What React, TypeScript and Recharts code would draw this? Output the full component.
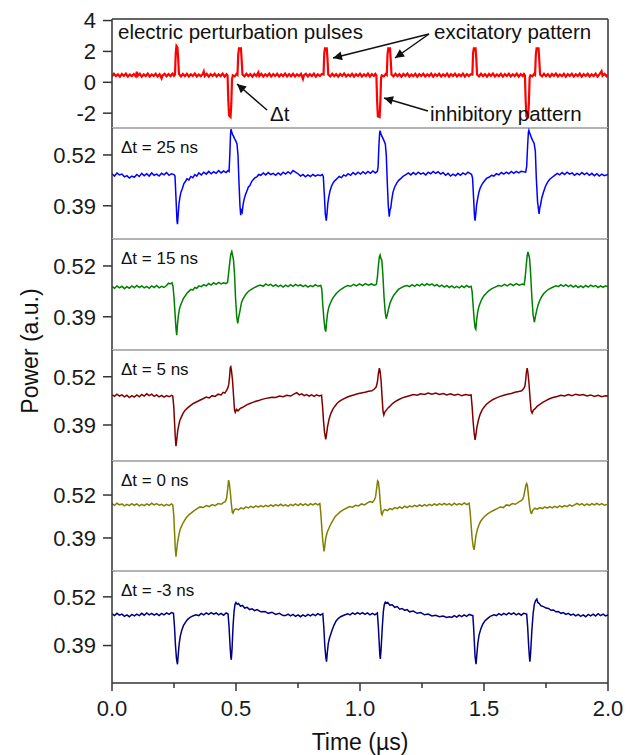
import React from "react";
import { LineChart, Line, XAxis, YAxis, ReferenceLine } from "recharts";

const FONT = "'Liberation Sans', Arial, Helvetica, sans-serif";

// axis ticks
const timeTicks = [0, 0.25, 0.5, 0.75, 1, 1.25, 1.5, 1.75, 2];
const majorTimeTicks = [0, 0.5, 1, 1.5, 2];
const pulseTicks = [4, 2, 0, -2];
const powerTicks = [0.39, 0.52];
const delayLabels = ["Δt = 25 ns", "Δt = 15 ns", "Δt = 5 ns", "Δt = 0 ns", "Δt = -3 ns"];

// [time (µs), value]
const pulseTrace: [number, number][] = [
  [0,0.38],[0.008,0.55],[0.016,0.4],[0.024,0.52],[0.032,0.36],[0.04,0.54],[0.048,0.41],[0.056,0.56],[0.064,0.37],[0.072,0.5],[0.08,0.4],[0.088,0.53],[0.096,0.38],[0.1,0.68],[0.104,0.42],[0.112,0.55],[0.12,0.36],[0.128,0.52],[0.136,0.4],[0.144,0.56],[0.152,0.38],[0.16,0.51],[0.168,0.41],[0.176,0.55],[0.184,0.37],[0.192,0.52],[0.2,0.26],[0.204,0.45],[0.212,0.55],[0.22,0.39],[0.228,0.53],[0.236,0.4],[0.244,0.56],[0.25,0.42],
  [0.254,0.5],[0.257,1.9],[0.26,2.35],[0.264,2.25],[0.267,1.5],[0.27,0.55],
  [0.278,0.38],[0.286,0.54],[0.294,0.4],[0.302,0.55],[0.31,0.37],[0.318,0.52],[0.326,0.41],[0.334,0.56],[0.342,0.38],[0.35,0.51],[0.358,0.4],[0.366,0.54],[0.37,0.7],[0.374,0.4],[0.382,0.55],[0.39,0.37],[0.398,0.53],[0.406,0.41],[0.414,0.55],[0.422,0.38],[0.43,0.52],[0.438,0.4],[0.446,0.56],[0.454,0.37],[0.462,0.52],
  [0.466,0.45],[0.469,-1.2],[0.472,-2.15],[0.478,-2.25],[0.481,-1.4],[0.484,0.2],[0.487,0.45],[0.495,0.38],[0.502,0.54],
  [0.506,0.48],[0.509,1.8],[0.512,2.2],[0.52,2.2],[0.523,1.4],[0.526,0.5],
  [0.534,0.38],[0.542,0.55],[0.55,0.4],[0.558,0.53],[0.566,0.37],[0.574,0.54],[0.582,0.41],[0.59,0.64],[0.594,0.4],[0.602,0.55],[0.61,0.37],[0.618,0.52],[0.626,0.4],[0.634,0.56],[0.642,0.38],[0.65,0.53],[0.658,0.41],[0.666,0.55],[0.674,0.37],[0.682,0.52],[0.69,0.4],[0.698,0.56],[0.706,0.38],[0.714,0.53],[0.722,0.39],[0.73,0.55],[0.738,0.37],[0.746,0.52],[0.754,0.41],[0.762,0.55],[0.77,0.22],[0.774,0.46],[0.782,0.55],[0.79,0.38],[0.798,0.53],[0.806,0.4],[0.814,0.56],[0.822,0.37],[0.83,0.52],[0.838,0.41],[0.846,0.54],
  [0.853,0.5],[0.856,1.9],[0.859,2.2],[0.866,2.2],[0.869,1.5],[0.872,0.5],
  [0.88,0.38],[0.888,0.55],[0.896,0.4],[0.904,0.53],[0.912,0.37],[0.92,0.54],[0.928,0.41],[0.936,0.56],[0.944,0.38],[0.952,0.51],[0.96,0.4],[0.968,0.55],[0.976,0.37],[0.984,0.53],[0.992,0.41],[1,0.55],[1.008,0.38],[1.016,0.52],[1.024,0.4],[1.032,0.56],[1.04,0.37],[1.048,0.53],[1.056,0.41],[1.062,0.54],
  [1.066,0.45],[1.069,-1.2],[1.072,-2.2],[1.079,-2.25],[1.082,-1.3],[1.085,0.3],[1.088,0.45],[1.096,0.38],[1.104,0.54],
  [1.108,0.48],[1.111,1.8],[1.114,2.2],[1.121,2.2],[1.124,1.4],[1.127,0.5],
  [1.135,0.38],[1.143,0.55],[1.151,0.4],[1.159,0.53],[1.167,0.37],[1.175,0.54],[1.183,0.41],[1.191,0.56],[1.199,0.38],[1.207,0.51],[1.215,0.4],[1.223,0.55],[1.231,0.37],[1.239,0.53],[1.247,0.41],[1.255,0.55],[1.263,0.38],[1.271,0.52],[1.279,0.4],[1.287,0.56],[1.295,0.37],[1.303,0.53],[1.311,0.41],[1.319,0.55],[1.327,0.38],[1.335,0.52],[1.343,0.4],[1.351,0.56],[1.359,0.37],[1.367,0.53],[1.375,0.41],[1.383,0.55],[1.391,0.38],[1.399,0.52],[1.407,0.4],[1.415,0.56],[1.423,0.37],[1.431,0.53],[1.439,0.41],[1.447,0.52],
  [1.453,0.5],[1.456,1.9],[1.459,2.2],[1.466,2.2],[1.469,1.5],[1.472,0.5],
  [1.48,0.38],[1.488,0.55],[1.496,0.4],[1.504,0.53],[1.512,0.37],[1.52,0.54],[1.528,0.41],[1.536,0.56],[1.544,0.38],[1.552,0.51],[1.56,0.4],[1.568,0.55],[1.576,0.37],[1.584,0.53],[1.592,0.41],[1.6,0.55],[1.608,0.38],[1.616,0.52],[1.624,0.4],[1.632,0.56],[1.64,0.37],[1.648,0.53],[1.656,0.41],[1.661,0.54],
  [1.665,0.45],[1.668,-1.2],[1.671,-2.2],[1.678,-2.25],[1.681,-1.3],[1.684,0.3],[1.687,0.45],[1.695,0.38],[1.702,0.54],
  [1.706,0.48],[1.709,1.8],[1.712,2.2],[1.72,2.2],[1.723,1.4],[1.726,0.5],
  [1.734,0.38],[1.742,0.55],[1.75,0.4],[1.758,0.53],[1.766,0.37],[1.774,0.54],[1.782,0.41],[1.79,0.56],[1.798,0.38],[1.806,0.51],[1.814,0.4],[1.822,0.55],[1.83,0.37],[1.838,0.53],[1.846,0.41],[1.854,0.55],[1.862,0.38],[1.87,0.52],[1.878,0.4],[1.886,0.56],[1.894,0.37],[1.902,0.53],[1.91,0.41],[1.918,0.55],[1.926,0.38],[1.934,0.52],[1.942,0.4],[1.95,0.56],[1.958,0.37],[1.966,0.53],[1.974,0.72],[1.978,0.42],[1.986,0.55],[1.994,0.39],[2,0.5],
];

const trace25: [number, number][] = [
  [0,0.472],[0.01,0.466],[0.02,0.474],[0.03,0.469],[0.04,0.471],[0.05,0.464],[0.06,0.467],[0.07,0.461],[0.08,0.466],[0.09,0.463],[0.1,0.47],[0.11,0.465],[0.12,0.473],[0.13,0.467],[0.14,0.472],[0.15,0.466],[0.16,0.474],[0.17,0.468],[0.18,0.471],[0.19,0.466],[0.2,0.473],[0.21,0.469],[0.22,0.475],[0.23,0.468],[0.24,0.472],[0.25,0.47],
  [0.254,0.466],[0.258,0.41],[0.262,0.352],[0.264,0.343],[0.267,0.368],[0.27,0.395],[0.274,0.412],[0.278,0.425],[0.283,0.433],[0.29,0.447],[0.296,0.452],[0.302,0.459],[0.31,0.456],[0.318,0.465],[0.326,0.462],[0.334,0.47],[0.342,0.466],[0.35,0.474],[0.36,0.469],[0.37,0.476],[0.38,0.471],[0.39,0.478],[0.4,0.472],[0.41,0.477],[0.42,0.473],[0.43,0.48],[0.44,0.474],[0.45,0.479],[0.46,0.475],[0.468,0.48],
  [0.472,0.478],[0.475,0.52],[0.478,0.575],[0.48,0.586],[0.483,0.578],[0.486,0.572],[0.49,0.568],[0.494,0.562],[0.499,0.556],[0.504,0.548],[0.508,0.52],[0.512,0.45],[0.516,0.39],[0.519,0.366],[0.522,0.378],[0.525,0.374],[0.529,0.395],[0.533,0.407],[0.538,0.418],[0.544,0.428],[0.55,0.438],[0.556,0.442],[0.563,0.452],[0.57,0.457],[0.577,0.462],[0.584,0.464],[0.592,0.47],[0.6,0.468],[0.61,0.474],[0.62,0.469],[0.63,0.475],[0.64,0.47],[0.65,0.473],[0.66,0.468],[0.67,0.474],[0.68,0.469],[0.69,0.476],[0.7,0.471],[0.71,0.477],[0.72,0.472],[0.73,0.48],[0.74,0.476],[0.75,0.472],[0.76,0.466],[0.77,0.47],[0.78,0.464],[0.79,0.469],[0.8,0.465],[0.81,0.47],[0.82,0.466],[0.83,0.469],[0.84,0.467],[0.848,0.47],
  [0.852,0.465],[0.856,0.42],[0.86,0.37],[0.864,0.352],[0.867,0.37],[0.87,0.395],[0.874,0.412],[0.879,0.428],[0.885,0.44],[0.892,0.449],[0.9,0.455],[0.908,0.46],[0.916,0.465],[0.925,0.462],[0.934,0.469],[0.943,0.466],[0.952,0.472],[0.962,0.468],[0.972,0.475],[0.982,0.47],[0.992,0.476],[1.002,0.471],[1.012,0.477],[1.022,0.472],[1.032,0.478],[1.042,0.473],[1.052,0.479],[1.062,0.474],[1.07,0.478],
  [1.073,0.49],[1.076,0.54],[1.079,0.575],[1.081,0.582],[1.084,0.575],[1.088,0.568],[1.092,0.563],[1.097,0.556],[1.102,0.548],[1.106,0.52],[1.11,0.45],[1.114,0.39],[1.118,0.362],[1.121,0.38],[1.124,0.384],[1.128,0.405],[1.133,0.425],[1.14,0.438],[1.148,0.448],[1.156,0.455],[1.165,0.46],[1.175,0.466],[1.185,0.47],[1.195,0.474],[1.205,0.469],[1.215,0.475],[1.225,0.47],[1.235,0.476],[1.245,0.471],[1.255,0.474],[1.265,0.469],[1.275,0.476],[1.285,0.472],[1.295,0.478],[1.305,0.473],[1.315,0.477],[1.325,0.471],[1.335,0.475],[1.345,0.468],[1.355,0.473],[1.365,0.466],[1.375,0.471],[1.385,0.467],[1.395,0.473],[1.405,0.468],[1.415,0.474],[1.425,0.47],[1.435,0.476],[1.445,0.472],[1.45,0.47],
  [1.454,0.46],[1.458,0.41],[1.462,0.36],[1.464,0.352],[1.467,0.37],[1.47,0.392],[1.475,0.41],[1.48,0.426],[1.485,0.436],[1.492,0.445],[1.5,0.452],[1.51,0.46],[1.52,0.463],[1.53,0.468],[1.54,0.466],[1.55,0.472],[1.56,0.469],[1.57,0.475],[1.58,0.471],[1.59,0.476],[1.6,0.472],[1.61,0.478],[1.62,0.473],[1.63,0.478],[1.64,0.474],[1.65,0.478],[1.668,0.476],
  [1.672,0.49],[1.676,0.545],[1.679,0.578],[1.681,0.583],[1.684,0.576],[1.688,0.57],[1.692,0.563],[1.697,0.556],[1.702,0.55],[1.707,0.53],[1.711,0.46],[1.716,0.4],[1.722,0.369],[1.725,0.385],[1.728,0.392],[1.733,0.41],[1.74,0.425],[1.748,0.44],[1.756,0.45],[1.765,0.458],[1.775,0.463],[1.785,0.468],[1.795,0.473],[1.805,0.469],[1.815,0.475],[1.825,0.47],[1.835,0.476],[1.845,0.471],[1.855,0.474],[1.865,0.468],[1.875,0.473],[1.885,0.469],[1.895,0.475],[1.905,0.47],[1.915,0.474],[1.925,0.468],[1.935,0.473],[1.945,0.467],[1.955,0.472],[1.965,0.466],[1.975,0.471],[1.985,0.467],[2,0.47],
];

const trace15: [number, number][] = [
  [0,0.468],[0.01,0.463],[0.02,0.469],[0.03,0.464],[0.04,0.468],[0.05,0.462],[0.06,0.467],[0.07,0.463],[0.08,0.469],[0.09,0.464],[0.1,0.47],[0.11,0.465],[0.12,0.469],[0.13,0.464],[0.14,0.468],[0.15,0.463],[0.16,0.469],[0.17,0.465],[0.18,0.47],[0.19,0.464],[0.2,0.468],[0.21,0.465],[0.22,0.47],[0.228,0.476],[0.236,0.474],[0.242,0.477],[0.246,0.468],
  [0.25,0.44],[0.254,0.4],[0.258,0.36],[0.261,0.343],[0.264,0.37],[0.268,0.395],[0.272,0.41],[0.277,0.42],[0.282,0.428],[0.288,0.437],[0.295,0.443],[0.302,0.45],[0.31,0.455],[0.318,0.46],[0.326,0.458],[0.334,0.465],[0.342,0.463],[0.35,0.469],[0.36,0.467],[0.37,0.472],[0.38,0.469],[0.39,0.475],[0.4,0.471],[0.41,0.477],[0.42,0.473],[0.43,0.478],[0.44,0.474],[0.45,0.477],[0.46,0.475],
  [0.466,0.478],[0.47,0.5],[0.475,0.53],[0.479,0.55],[0.483,0.557],[0.486,0.548],[0.49,0.535],[0.494,0.5],[0.498,0.44],[0.503,0.39],[0.507,0.373],[0.511,0.39],[0.516,0.405],[0.522,0.426],[0.528,0.435],[0.535,0.443],[0.543,0.45],[0.552,0.456],[0.562,0.46],[0.572,0.464],[0.585,0.468],[0.597,0.471],[0.61,0.468],[0.62,0.474],[0.63,0.47],[0.64,0.473],[0.65,0.468],[0.66,0.472],[0.67,0.467],[0.68,0.471],[0.69,0.466],[0.7,0.471],[0.71,0.467],[0.72,0.472],[0.73,0.468],[0.74,0.473],[0.75,0.469],[0.76,0.472],[0.77,0.467],[0.78,0.471],[0.79,0.466],[0.8,0.47],[0.81,0.467],[0.82,0.472],[0.83,0.468],[0.842,0.47],
  [0.846,0.46],[0.85,0.42],[0.855,0.38],[0.859,0.358],[0.862,0.352],[0.865,0.375],[0.869,0.398],[0.874,0.414],[0.88,0.424],[0.887,0.434],[0.895,0.442],[0.905,0.45],[0.915,0.456],[0.925,0.461],[0.937,0.466],[0.95,0.47],[0.962,0.468],[0.974,0.473],[0.986,0.469],[0.998,0.474],[1.01,0.47],[1.022,0.475],[1.034,0.471],[1.046,0.474],[1.058,0.47],[1.066,0.473],
  [1.07,0.49],[1.074,0.52],[1.078,0.543],[1.081,0.548],[1.084,0.54],[1.088,0.535],[1.092,0.5],[1.097,0.44],[1.102,0.4],[1.106,0.385],[1.11,0.395],[1.115,0.41],[1.121,0.425],[1.128,0.435],[1.136,0.445],[1.145,0.452],[1.155,0.46],[1.165,0.464],[1.178,0.468],[1.19,0.47],[1.2,0.467],[1.21,0.472],[1.22,0.468],[1.23,0.473],[1.24,0.469],[1.25,0.474],[1.26,0.47],[1.27,0.475],[1.28,0.471],[1.29,0.474],[1.3,0.469],[1.31,0.472],[1.32,0.467],[1.33,0.471],[1.34,0.466],[1.35,0.47],[1.36,0.465],[1.37,0.469],[1.38,0.464],[1.39,0.468],[1.4,0.464],[1.41,0.469],[1.42,0.465],[1.43,0.47],[1.44,0.466],[1.448,0.468],
  [1.452,0.455],[1.456,0.42],[1.46,0.385],[1.464,0.362],[1.467,0.358],[1.47,0.38],[1.474,0.4],[1.479,0.415],[1.485,0.426],[1.492,0.436],[1.5,0.444],[1.51,0.451],[1.52,0.457],[1.532,0.462],[1.545,0.466],[1.558,0.47],[1.57,0.468],[1.582,0.473],[1.594,0.469],[1.606,0.474],[1.618,0.47],[1.63,0.475],[1.642,0.471],[1.654,0.474],[1.662,0.472],
  [1.666,0.49],[1.67,0.52],[1.674,0.545],[1.677,0.556],[1.68,0.55],[1.684,0.538],[1.688,0.5],[1.693,0.44],[1.698,0.395],[1.703,0.376],[1.707,0.39],[1.712,0.405],[1.718,0.42],[1.725,0.432],[1.733,0.442],[1.742,0.45],[1.752,0.456],[1.762,0.461],[1.775,0.465],[1.79,0.469],[1.8,0.467],[1.81,0.472],[1.82,0.468],[1.83,0.472],[1.84,0.467],[1.85,0.471],[1.86,0.466],[1.87,0.47],[1.88,0.465],[1.89,0.469],[1.9,0.465],[1.91,0.47],[1.92,0.466],[1.93,0.471],[1.94,0.467],[1.95,0.47],[1.96,0.465],[1.97,0.469],[1.98,0.465],[1.99,0.469],[2,0.467],
];

const trace5: [number, number][] = [
  [0,0.472],[0.01,0.467],[0.02,0.473],[0.03,0.468],[0.04,0.471],[0.05,0.466],[0.06,0.47],[0.07,0.464],[0.08,0.469],[0.09,0.465],[0.1,0.471],[0.11,0.466],[0.12,0.472],[0.13,0.468],[0.14,0.474],[0.15,0.469],[0.16,0.473],[0.17,0.467],[0.18,0.471],[0.19,0.466],[0.2,0.47],[0.21,0.465],[0.22,0.469],[0.23,0.466],[0.24,0.47],[0.245,0.468],
  [0.249,0.44],[0.252,0.4],[0.255,0.36],[0.258,0.333],[0.261,0.35],[0.265,0.375],[0.27,0.392],[0.274,0.403],[0.28,0.412],[0.287,0.422],[0.295,0.43],[0.305,0.436],[0.316,0.442],[0.328,0.448],[0.34,0.452],[0.352,0.456],[0.365,0.46],[0.38,0.465],[0.392,0.463],[0.404,0.469],[0.416,0.467],[0.428,0.473],[0.44,0.471],[0.448,0.478],[0.455,0.476],[0.462,0.483],[0.467,0.49],
  [0.471,0.5],[0.474,0.52],[0.477,0.545],[0.479,0.547],[0.482,0.535],[0.486,0.51],[0.49,0.47],[0.494,0.43],[0.497,0.424],[0.502,0.432],[0.508,0.428],[0.516,0.434],[0.525,0.437],[0.535,0.441],[0.545,0.445],[0.556,0.448],[0.568,0.451],[0.58,0.454],[0.592,0.456],[0.605,0.459],[0.617,0.461],[0.63,0.463],[0.645,0.465],[0.66,0.464],[0.675,0.468],[0.69,0.466],[0.705,0.47],[0.72,0.468],[0.735,0.474],[0.745,0.477],[0.755,0.471],[0.765,0.474],[0.775,0.469],[0.785,0.472],[0.795,0.468],[0.805,0.471],[0.815,0.467],[0.825,0.471],[0.835,0.468],[0.845,0.47],
  [0.849,0.44],[0.853,0.4],[0.857,0.37],[0.862,0.351],[0.865,0.365],[0.869,0.385],[0.875,0.405],[0.882,0.42],[0.89,0.432],[0.898,0.44],[0.907,0.448],[0.918,0.454],[0.93,0.459],[0.945,0.464],[0.96,0.468],[0.975,0.471],[0.99,0.474],[1.005,0.476],[1.02,0.478],[1.035,0.481],[1.048,0.482],[1.058,0.487],[1.065,0.492],
  [1.07,0.505],[1.074,0.528],[1.078,0.543],[1.081,0.535],[1.085,0.51],[1.089,0.465],[1.093,0.425],[1.096,0.417],[1.1,0.425],[1.106,0.43],[1.113,0.436],[1.12,0.44],[1.13,0.447],[1.14,0.452],[1.155,0.458],[1.17,0.463],[1.185,0.466],[1.2,0.469],[1.215,0.472],[1.23,0.47],[1.245,0.474],[1.26,0.472],[1.275,0.476],[1.29,0.473],[1.305,0.476],[1.32,0.472],[1.335,0.475],[1.35,0.471],[1.365,0.474],[1.38,0.47],[1.395,0.473],[1.41,0.469],[1.425,0.472],[1.44,0.47],[1.448,0.471],
  [1.452,0.44],[1.456,0.4],[1.46,0.37],[1.464,0.35],[1.467,0.362],[1.471,0.382],[1.477,0.402],[1.484,0.418],[1.492,0.43],[1.5,0.438],[1.51,0.446],[1.522,0.452],[1.535,0.458],[1.55,0.463],[1.565,0.467],[1.58,0.47],[1.595,0.473],[1.61,0.475],[1.625,0.478],[1.64,0.48],[1.652,0.482],[1.66,0.488],[1.665,0.495],
  [1.668,0.51],[1.671,0.532],[1.674,0.543],[1.677,0.532],[1.681,0.505],[1.686,0.46],[1.69,0.428],[1.694,0.422],[1.699,0.43],[1.706,0.434],[1.714,0.44],[1.724,0.445],[1.735,0.45],[1.748,0.455],[1.762,0.46],[1.778,0.464],[1.795,0.467],[1.81,0.47],[1.825,0.468],[1.84,0.472],[1.855,0.469],[1.87,0.473],[1.885,0.47],[1.9,0.472],[1.915,0.468],[1.93,0.471],[1.945,0.467],[1.96,0.47],[1.975,0.466],[1.99,0.469],[2,0.468],
];

const trace0: [number, number][] = [
  [0,0.494],[0.01,0.489],[0.02,0.495],[0.03,0.49],[0.04,0.493],[0.05,0.487],[0.06,0.492],[0.07,0.488],[0.08,0.494],[0.09,0.489],[0.1,0.493],[0.11,0.487],[0.12,0.492],[0.13,0.488],[0.14,0.493],[0.15,0.489],[0.16,0.495],[0.17,0.49],[0.18,0.494],[0.19,0.489],[0.2,0.492],[0.21,0.487],[0.22,0.492],[0.23,0.488],[0.24,0.493],[0.245,0.49],
  [0.249,0.46],[0.252,0.41],[0.255,0.36],[0.258,0.333],[0.261,0.355],[0.265,0.38],[0.27,0.4],[0.274,0.414],[0.28,0.425],[0.287,0.436],[0.294,0.445],[0.3,0.452],[0.31,0.46],[0.32,0.466],[0.33,0.472],[0.342,0.478],[0.355,0.484],[0.368,0.482],[0.38,0.488],[0.392,0.485],[0.404,0.491],[0.416,0.488],[0.428,0.494],[0.44,0.492],[0.45,0.498],[0.457,0.5],
  [0.462,0.51],[0.466,0.535],[0.47,0.565],[0.473,0.555],[0.477,0.53],[0.481,0.495],[0.485,0.468],[0.488,0.465],[0.493,0.475],[0.5,0.478],[0.51,0.475],[0.52,0.481],[0.53,0.478],[0.54,0.484],[0.55,0.481],[0.56,0.486],[0.57,0.482],[0.58,0.487],[0.59,0.483],[0.6,0.488],[0.61,0.484],[0.62,0.489],[0.63,0.485],[0.64,0.49],[0.65,0.486],[0.66,0.491],[0.67,0.487],[0.68,0.492],[0.69,0.487],[0.7,0.491],[0.71,0.486],[0.72,0.492],[0.73,0.488],[0.74,0.493],[0.75,0.488],[0.76,0.494],[0.77,0.489],[0.78,0.493],[0.79,0.488],[0.8,0.494],[0.81,0.49],[0.82,0.495],[0.83,0.49],[0.838,0.494],
  [0.842,0.465],[0.846,0.42],[0.85,0.38],[0.855,0.349],[0.858,0.365],[0.862,0.39],[0.868,0.408],[0.875,0.42],[0.883,0.433],[0.892,0.445],[0.9,0.455],[0.91,0.462],[0.92,0.469],[0.932,0.475],[0.945,0.48],[0.958,0.485],[0.97,0.483],[0.982,0.489],[0.994,0.487],[1.006,0.493],[1.018,0.49],[1.03,0.496],[1.04,0.5],[1.05,0.498],[1.058,0.505],
  [1.063,0.515],[1.067,0.54],[1.071,0.563],[1.074,0.56],[1.078,0.535],[1.082,0.495],[1.086,0.465],[1.089,0.46],[1.094,0.472],[1.1,0.476],[1.11,0.473],[1.12,0.479],[1.13,0.476],[1.14,0.482],[1.15,0.479],[1.16,0.484],[1.17,0.48],[1.18,0.486],[1.19,0.482],[1.2,0.487],[1.21,0.484],[1.22,0.489],[1.23,0.485],[1.24,0.49],[1.25,0.486],[1.26,0.491],[1.27,0.487],[1.28,0.492],[1.29,0.488],[1.3,0.493],[1.31,0.489],[1.32,0.494],[1.33,0.49],[1.34,0.495],[1.35,0.49],[1.36,0.494],[1.37,0.489],[1.38,0.495],[1.39,0.49],[1.4,0.494],[1.41,0.49],[1.42,0.496],[1.43,0.491],[1.44,0.495],
  [1.444,0.47],[1.448,0.43],[1.452,0.39],[1.456,0.365],[1.46,0.354],[1.463,0.37],[1.467,0.395],[1.473,0.415],[1.479,0.428],[1.486,0.44],[1.495,0.449],[1.505,0.457],[1.515,0.463],[1.527,0.469],[1.54,0.474],[1.553,0.479],[1.566,0.484],[1.578,0.482],[1.59,0.49],[1.602,0.488],[1.614,0.494],[1.626,0.492],[1.638,0.498],[1.648,0.502],[1.655,0.506],
  [1.66,0.515],[1.665,0.535],[1.669,0.55],[1.672,0.555],[1.675,0.548],[1.679,0.52],[1.684,0.485],[1.689,0.466],[1.692,0.465],[1.697,0.474],[1.705,0.48],[1.715,0.477],[1.725,0.482],[1.735,0.479],[1.745,0.484],[1.755,0.48],[1.765,0.485],[1.775,0.481],[1.785,0.486],[1.795,0.482],[1.805,0.487],[1.815,0.483],[1.825,0.488],[1.835,0.485],[1.845,0.49],[1.855,0.486],[1.865,0.49],[1.875,0.495],[1.885,0.49],[1.895,0.494],[1.905,0.488],[1.915,0.493],[1.925,0.489],[1.935,0.494],[1.945,0.49],[1.955,0.495],[1.965,0.49],[1.975,0.494],[1.985,0.489],[2,0.492],
];

const traceNeg3: [number, number][] = [
  [0,0.475],[0.01,0.47],[0.02,0.476],[0.03,0.471],[0.04,0.474],[0.05,0.468],[0.06,0.472],[0.07,0.467],[0.08,0.473],[0.09,0.469],[0.1,0.474],[0.11,0.47],[0.12,0.476],[0.13,0.471],[0.14,0.477],[0.15,0.472],[0.16,0.476],[0.17,0.471],[0.18,0.475],[0.19,0.47],[0.2,0.476],[0.21,0.472],[0.22,0.477],[0.23,0.473],[0.24,0.478],[0.248,0.476],
  [0.252,0.44],[0.256,0.39],[0.26,0.355],[0.264,0.34],[0.267,0.365],[0.271,0.395],[0.275,0.414],[0.281,0.43],[0.288,0.443],[0.296,0.452],[0.305,0.46],[0.315,0.465],[0.326,0.469],[0.338,0.472],[0.35,0.47],[0.36,0.476],[0.37,0.472],[0.38,0.477],[0.39,0.473],[0.4,0.478],[0.41,0.474],[0.42,0.477],[0.43,0.472],[0.44,0.476],[0.45,0.471],[0.46,0.477],[0.468,0.474],
  [0.472,0.44],[0.476,0.39],[0.479,0.36],[0.481,0.352],[0.484,0.38],[0.488,0.44],[0.492,0.48],[0.496,0.5],[0.5,0.505],[0.505,0.5],[0.51,0.502],[0.518,0.495],[0.526,0.497],[0.535,0.49],[0.545,0.492],[0.555,0.486],[0.565,0.488],[0.575,0.483],[0.585,0.486],[0.6,0.48],[0.617,0.481],[0.63,0.476],[0.645,0.479],[0.66,0.473],[0.675,0.476],[0.69,0.47],[0.7,0.47],[0.71,0.474],[0.72,0.469],[0.73,0.473],[0.74,0.468],[0.75,0.472],[0.76,0.467],[0.77,0.472],[0.78,0.468],[0.79,0.473],[0.8,0.469],[0.81,0.474],[0.82,0.47],[0.83,0.475],[0.84,0.471],[0.85,0.475],
  [0.854,0.44],[0.858,0.39],[0.862,0.36],[0.865,0.347],[0.868,0.37],[0.872,0.395],[0.877,0.41],[0.882,0.42],[0.888,0.432],[0.895,0.444],[0.903,0.455],[0.912,0.462],[0.922,0.467],[0.935,0.471],[0.95,0.475],[0.96,0.472],[0.97,0.477],[0.98,0.473],[0.99,0.478],[1,0.474],[1.01,0.478],[1.02,0.473],[1.03,0.477],[1.04,0.472],[1.05,0.476],[1.06,0.472],[1.07,0.477],
  [1.074,0.44],[1.078,0.39],[1.08,0.365],[1.082,0.354],[1.085,0.38],[1.09,0.44],[1.094,0.48],[1.098,0.5],[1.102,0.506],[1.106,0.503],[1.112,0.505],[1.12,0.498],[1.13,0.499],[1.14,0.492],[1.15,0.494],[1.16,0.487],[1.17,0.489],[1.18,0.484],[1.19,0.486],[1.2,0.48],[1.215,0.482],[1.23,0.476],[1.245,0.478],[1.26,0.472],[1.275,0.474],[1.29,0.469],[1.305,0.471],[1.32,0.467],[1.335,0.469],[1.35,0.465],[1.36,0.467],[1.37,0.465],[1.38,0.47],[1.39,0.466],[1.4,0.471],[1.41,0.467],[1.42,0.472],[1.43,0.468],[1.44,0.473],[1.45,0.471],[1.455,0.47],
  [1.458,0.44],[1.461,0.4],[1.464,0.36],[1.468,0.34],[1.471,0.365],[1.475,0.395],[1.48,0.418],[1.487,0.434],[1.495,0.447],[1.504,0.456],[1.514,0.462],[1.525,0.468],[1.54,0.472],[1.55,0.47],[1.56,0.475],[1.57,0.471],[1.58,0.476],[1.59,0.472],[1.6,0.477],[1.61,0.473],[1.62,0.477],[1.63,0.472],[1.64,0.476],[1.65,0.471],[1.66,0.476],[1.672,0.474],
  [1.676,0.44],[1.68,0.39],[1.683,0.36],[1.685,0.347],[1.688,0.37],[1.693,0.43],[1.698,0.475],[1.703,0.5],[1.708,0.51],[1.713,0.514],[1.717,0.505],[1.723,0.502],[1.73,0.496],[1.74,0.494],[1.75,0.49],[1.76,0.489],[1.77,0.484],[1.78,0.485],[1.79,0.48],[1.8,0.481],[1.81,0.476],[1.82,0.478],[1.83,0.473],[1.84,0.476],[1.85,0.471],[1.86,0.474],[1.87,0.469],[1.88,0.473],[1.89,0.468],[1.9,0.472],[1.91,0.467],[1.92,0.473],[1.93,0.469],[1.94,0.474],[1.95,0.469],[1.96,0.475],[1.97,0.47],[1.98,0.474],[1.99,0.469],[2,0.472],
];

const AXIS = "#333333";

function TimeTick(props: any) {
  const { x, y, payload } = props;
  const major = majorTimeTicks.includes(payload.value);
  return (
    <g>
      <line x1={x} x2={x} y1={y} y2={y + (major ? 8 : 5)} stroke={AXIS} strokeWidth={1.5} />
      {major && (
        <text x={x} y={y + 33} textAnchor="middle" fontSize={22} fill="#1a1a1a" fontFamily={FONT}>
          {payload.value.toFixed(1)}
        </text>
      )}
    </g>
  );
}

type PanelProps = {
  trace: [number, number][];
  color: string;
  lineWidth: number;
  domain: [number, number];
  ticks: number[];
  top: number;
  plotHeight: number;
  first?: boolean;
  last?: boolean;
  fmt?: (v: number) => string;
};

function Panel({ trace, color, lineWidth, domain, ticks, top, plotHeight, first, last, fmt }: PanelProps) {
  const pad = 14;
  const data = trace.map(([t, v]) => ({ t, v }));
  const height = plotHeight + pad + (last ? 72 : pad);
  return (
    <div style={{ position: "absolute", left: 0, top: top - pad }}>
      <LineChart width={638} height={height} data={data} margin={{ top: pad, right: 30, bottom: last ? 0 : pad, left: 0 }}>
        <XAxis
          type="number"
          dataKey="t"
          domain={[0, 2]}
          ticks={timeTicks}
          interval={0}
          allowDataOverflow
          hide={!last}
          height={72}
          axisLine={{ stroke: AXIS, strokeWidth: 1.5 }}
          tickLine={false}
          tickSize={0}
          tickMargin={0}
          tick={<TimeTick />}
        />
        <YAxis
          type="number"
          domain={domain}
          ticks={ticks}
          interval={0}
          allowDataOverflow
          width={112}
          tickSize={9}
          tickMargin={7}
          axisLine={{ stroke: AXIS, strokeWidth: 1.5 }}
          tickLine={{ stroke: AXIS, strokeWidth: 1.5 }}
          tick={{ fontSize: 22, fill: "#1a1a1a", fontFamily: FONT }}
          tickFormatter={fmt}
        />
        <ReferenceLine y={domain[1]} stroke={first ? AXIS : "#b3b3b3"} strokeWidth={first ? 1.5 : 2} />
        <ReferenceLine x={2} stroke={AXIS} strokeWidth={1.5} />
        <Line type="linear" dataKey="v" stroke={color} strokeWidth={lineWidth} dot={false} isAnimationActive={false} />
      </LineChart>
    </div>
  );
}

const panelTops = [19, 128, 239, 350, 461, 571, 683];

export default function App() {
  const h = (i: number) => panelTops[i + 1] - panelTops[i];
  const fmt2 = (v: number) => v.toFixed(2);
  return (
    <div style={{ position: "absolute", left: 0, top: 0, width: 638, height: 755, background: "#fff", overflow: "hidden" }}>
      <Panel trace={pulseTrace} color="#ff0000" lineWidth={2.2} domain={[-2.96, 4.1]} ticks={pulseTicks} top={panelTops[0]} plotHeight={h(0)} first fmt={(v) => String(v)} />
      <Panel trace={trace25} color="#0000ff" lineWidth={1.5} domain={[0.305, 0.589]} ticks={powerTicks} top={panelTops[1]} plotHeight={h(1)} fmt={fmt2} />
      <Panel trace={trace15} color="#008000" lineWidth={1.5} domain={[0.305, 0.589]} ticks={powerTicks} top={panelTops[2]} plotHeight={h(2)} fmt={fmt2} />
      <Panel trace={trace5} color="#800000" lineWidth={1.5} domain={[0.293, 0.592]} ticks={powerTicks} top={panelTops[3]} plotHeight={h(3)} fmt={fmt2} />
      <Panel trace={trace0} color="#808000" lineWidth={1.5} domain={[0.29, 0.623]} ticks={powerTicks} top={panelTops[4]} plotHeight={h(4)} fmt={fmt2} />
      <Panel trace={traceNeg3} color="#000080" lineWidth={1.5} domain={[0.29, 0.589]} ticks={powerTicks} top={panelTops[5]} plotHeight={h(5)} last fmt={fmt2} />

      <svg width={638} height={755} style={{ position: "absolute", left: 0, top: 0, pointerEvents: "none" }} fontFamily={FONT}>
        <defs>
          <marker id="arrowHead" viewBox="0 0 10 10" refX="10" refY="5" markerWidth="12" markerHeight="9" markerUnits="userSpaceOnUse" orient="auto">
            <path d="M0,0 L10,5 L0,10 z" fill="#111" />
          </marker>
        </defs>
        <text x={118} y={39} fontSize={20.5} fill="#111">electric perturbation pulses</text>
        <text x={434} y={39} fontSize={20.5} fill="#111">excitatory pattern</text>
        <text x={270} y={121} fontSize={20.5} fill="#111">Δt</text>
        <text x={430} y={121} fontSize={20.5} fill="#111">inhibitory pattern</text>
        <line x1={429} y1={34} x2={333} y2={58} stroke="#111" strokeWidth={1.5} markerEnd="url(#arrowHead)" />
        <line x1={429} y1={34} x2={395} y2={58} stroke="#111" strokeWidth={1.5} markerEnd="url(#arrowHead)" />
        <line x1={267} y1={110} x2={237} y2={84} stroke="#111" strokeWidth={1.5} markerEnd="url(#arrowHead)" />
        <line x1={428} y1={111} x2={384} y2={98} stroke="#111" strokeWidth={1.5} markerEnd="url(#arrowHead)" />
        {delayLabels.map((label, i) => (
          <text key={label} x={121} y={panelTops[i + 1] + 25} fontSize={17} fill="#111">{label}</text>
        ))}
        <text x={38} y={351} transform="rotate(-90 38 351)" textAnchor="middle" fontSize={23} fill="#111">Power (a.u.)</text>
        <text x={360} y={750} textAnchor="middle" fontSize={23} fill="#111">Time (µs)</text>
      </svg>
    </div>
  );
}
